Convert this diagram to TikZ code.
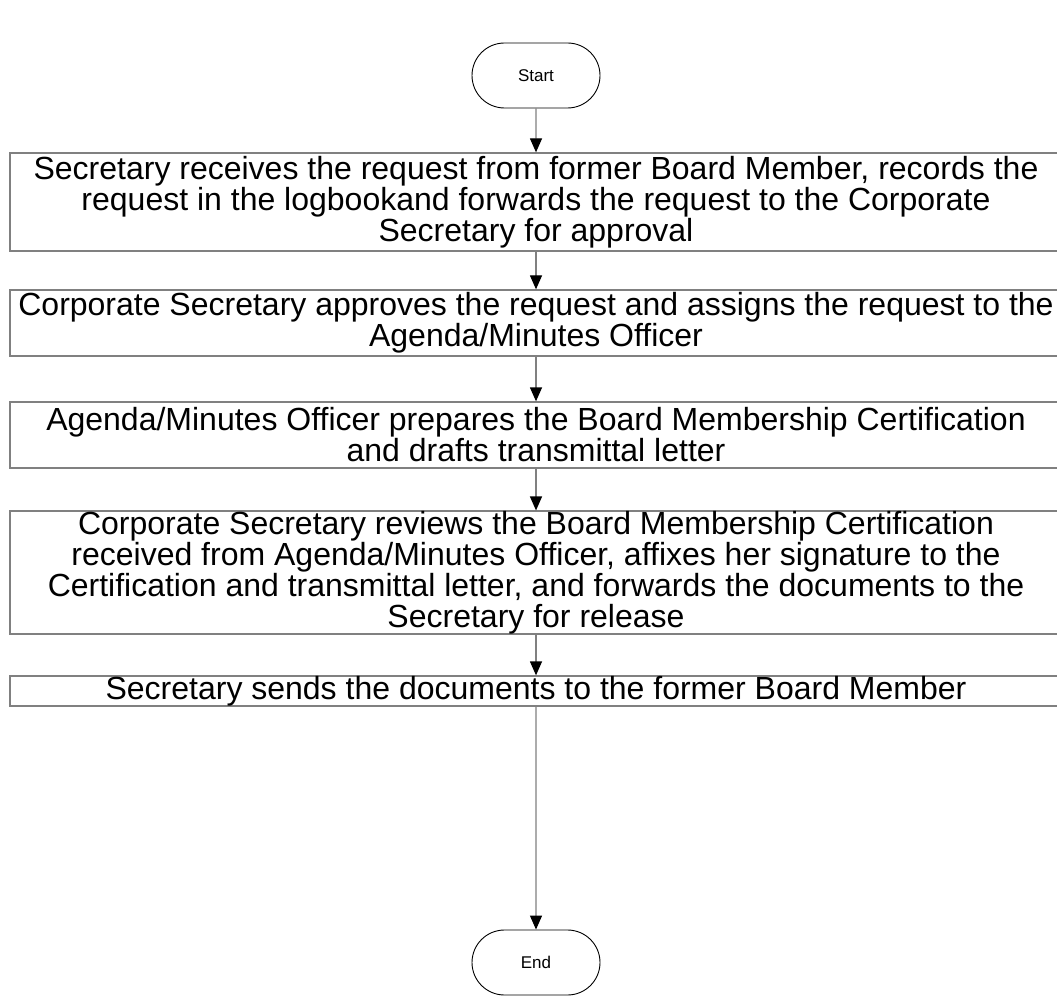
\documentclass[tikz,border=0pt]{standalone}
\usepackage{fontspec}
\setmainfont{Liberation Sans}
\usetikzlibrary{arrows.meta,shapes.misc}
\definecolor{linegray}{RGB}{128,128,128}
\begin{document}
\begin{tikzpicture}[x=1pt,y=-1pt,
  proc/.style={draw=linegray, line width=1.3pt, rectangle, minimum width=1052pt, align=center, font=\fontsize{32}{31}\selectfont, inner sep=0pt},
  term/.style={draw=black, line width=0.9pt, rounded rectangle, minimum width=128pt, minimum height=65pt, inner sep=0pt, font=\fontsize{17}{20}\selectfont},
  flow/.style={draw=linegray, line width=1.3pt, -{Triangle[length=14pt,width=12pt,color=black]}}
]
\useasboundingbox (0,0) rectangle (1057,1000);
\clip (0,0) rectangle (1057,1000);
\node[term] (start) at (536,75.5) {Start};
\node[proc, minimum height=98pt] (b1) at (536,202) {Secretary receives the request from former Board Member, records the\\ request in the logbookand forwards the request to the Corporate\\ Secretary for approval};
\node[proc, minimum height=66pt] (b2) at (536,323) {Corporate Secretary approves the request and assigns the request to the\\ Agenda/Minutes Officer};
\node[proc, minimum height=66pt] (b3) at (536,435) {Agenda/Minutes Officer prepares the Board Membership Certification\\ and drafts transmittal letter};
\node[proc, minimum height=120pt] (b4) at (536,572.5) {Corporate Secretary reviews the Board Membership Certification\\ received from Agenda/Minutes Officer, affixes her signature to the\\ Certification and transmittal letter, and forwards the documents to the\\ Secretary for release};
\node[proc, minimum height=30pt] (b5) at (536,691) {Secretary sends the documents to the former Board Member};
\node[term] (end) at (536,962.5) {End};
\draw[flow] (start) -- (b1);
\draw[flow] (b1) -- (b2);
\draw[flow] (b2) -- (b3);
\draw[flow] (b3) -- (b4);
\draw[flow] (b4) -- (b5);
\draw[flow] (b5) -- (end);
\end{tikzpicture}
\end{document}
